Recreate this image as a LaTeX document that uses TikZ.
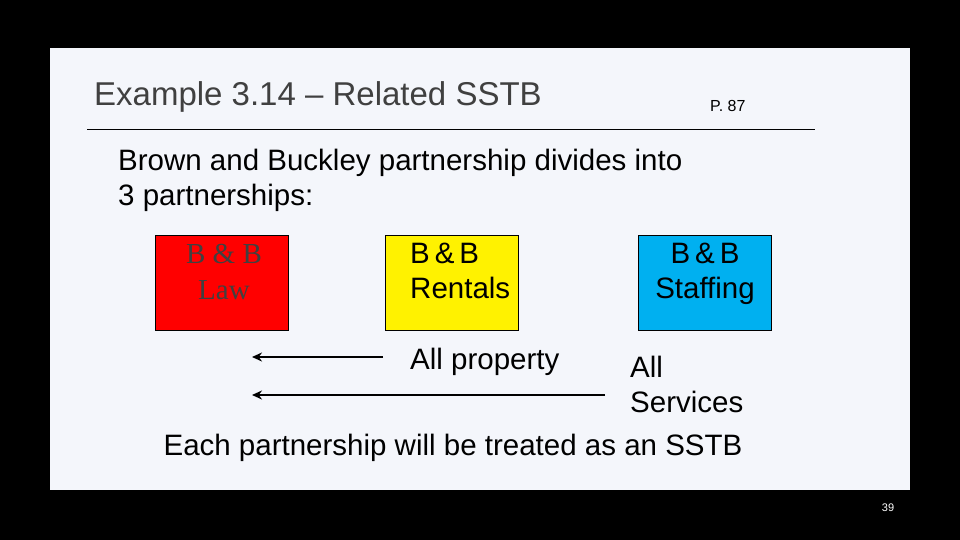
\documentclass[tikz,border=0pt]{standalone}
\usepackage{fontspec}
\setmainfont{Liberation Sans}
\newfontfamily\serif{Liberation Serif}
\usetikzlibrary{arrows.meta}
\definecolor{panel}{HTML}{F4F6FB}
\definecolor{tgray}{HTML}{404040}
\definecolor{bblue}{HTML}{00B0F0}
\tikzset{
  box/.style={draw=black, line width=1pt, minimum width=133pt, minimum height=95pt, anchor=north west, inner sep=0pt},
  body/.style={font=\fontsize{29.5}{35}\selectfont, anchor=west, inner sep=0pt, align=left},
  arr/.style={-{Stealth[length=10pt,width=9pt]}, line width=2pt}
}
\begin{document}
\begin{tikzpicture}[x=1pt,y=-1pt]
\fill[black] (0,0) rectangle (960,540);
\useasboundingbox (0,0) rectangle (960,540);
\fill[panel] (50,48) rectangle (910,490);
\node[anchor=west, inner sep=0pt, text=tgray, font=\fontsize{33}{38}\selectfont] (title) at (94,97) {Example 3.14 – Related SSTB};
\node[anchor=west, inner sep=0pt, font=\fontsize{16}{18}\selectfont] (page) at (710,106) {P. 87};
\coordinate (l1) at (87,130); \coordinate (l2) at (815,130);
\draw[line width=1pt] (l1) -- (l2);
\node[body] (intro) at (118,180) {Brown and Buckley partnership divides into\\3 partnerships:};
\node[box, fill=red] (law) at (155,235) {};
\node[font=\serif\fontsize{29}{36}\selectfont, align=center, text=tgray, anchor=north, inner sep=0pt] (lawt) at (224,244) {B \& B\\Law};
\node[box, fill=yellow] (rent) at (385,235) {};
\node[body, anchor=north west] (rentt) at (410,243) {B\,\&\,B\\Rentals};
\node[box, fill=bblue] (staff) at (638,235) {};
\node[body, anchor=north, align=center] (stafft) at (705,243) {B\,\&\,B\\Staffing};
\coordinate (a1s) at (383,357); \coordinate (a1e) at (252,357);
\coordinate (a2s) at (605,395); \coordinate (a2e) at (252,395);
\draw[arr] (a1s) -- (a1e);
\draw[arr] (a2s) -- (a2e);
\node[body] (prop) at (410,362) {All property};
\node[body] (serv) at (630,384) {All\\Services};
\node[body, anchor=center] (each) at (453,448) {Each partnership will be treated as an SSTB};
\node[text=white, font=\fontsize{11}{12}\selectfont, inner sep=0pt] (num) at (888,508) {39};
\end{tikzpicture}
\end{document}
